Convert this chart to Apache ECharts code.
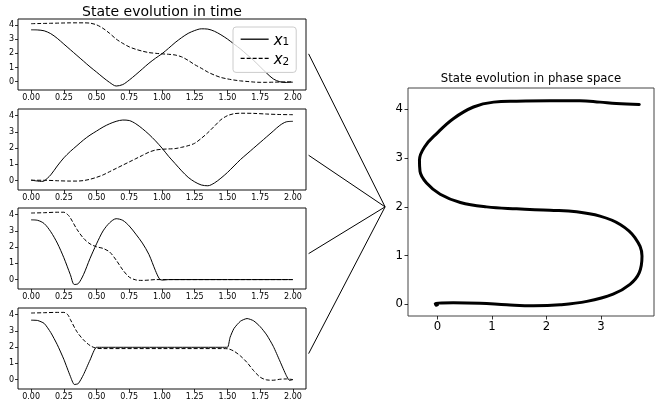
<!DOCTYPE html>
<html><head><meta charset="utf-8">
<script src="https://cdn.jsdelivr.net/npm/echarts@6/dist/echarts.min.js"></script>
<style>html,body{margin:0;padding:0;background:#fff}#c{width:662px;height:403px}</style>
</head><body><div id="c"></div>
<script>
// ---- tick labels ----
const timeTicks = [0, 0.25, 0.5, 0.75, 1.0, 1.25, 1.5, 1.75, 2.0];
const stateTicks = [0, 1, 2, 3, 4];
const phaseXTicks = [0, 1, 2, 3];
const phaseYTicks = [0, 1, 2, 3, 4];

// ---- subplot 1 ----
const t1 = [0,0.05,0.1,0.15,0.2,0.25,0.3,0.35,0.4,0.45,0.5,0.55,0.6,0.65,0.7,0.75,0.8,0.85,0.9,0.95,1.0,1.05,1.1,1.15,1.2,1.25,1.3,1.35,1.4,1.45,1.5,1.55,1.6,1.65,1.7,1.75,1.8,1.85,1.9,1.95,2.0];
const a_x1 = [3.65,3.64,3.58,3.38,3.05,2.65,2.25,1.85,1.45,1.05,0.68,0.3,-0.05,-0.3,-0.2,0.12,0.5,0.9,1.3,1.65,1.97,2.35,2.75,3.1,3.4,3.6,3.72,3.7,3.55,3.3,3.0,2.65,2.3,1.9,1.5,1.05,0.6,0.2,0.0,-0.05,-0.03];
const a_x2 = [4.08,4.09,4.1,4.11,4.12,4.13,4.14,4.14,4.14,4.12,4.0,3.75,3.4,3.0,2.7,2.45,2.28,2.15,2.05,2.0,1.96,1.93,1.88,1.75,1.5,1.2,0.95,0.68,0.47,0.3,0.2,0.12,0.06,0.02,-0.02,-0.04,-0.04,-0.03,-0.02,-0.01,0.0];

// ---- subplot 2 ----
const t2 = [0,0.05,0.08,0.1,0.15,0.2,0.25,0.3,0.35,0.4,0.45,0.5,0.55,0.6,0.65,0.7,0.75,0.8,0.85,0.9,0.95,1.0,1.05,1.1,1.15,1.2,1.25,1.3,1.35,1.4,1.45,1.5,1.55,1.6,1.65,1.7,1.75,1.8,1.85,1.9,1.95,2.0];
const b_x1 = [0.03,-0.03,-0.05,-0.02,0.35,0.9,1.4,1.8,2.15,2.5,2.8,3.05,3.3,3.5,3.65,3.73,3.7,3.5,3.2,2.85,2.45,2.0,1.5,1.05,0.6,0.2,-0.08,-0.27,-0.32,-0.15,0.15,0.5,0.9,1.3,1.65,2.0,2.35,2.7,3.05,3.4,3.62,3.65];
const t2b = [0,0.1,0.2,0.3,0.35,0.4,0.45,0.5,0.55,0.6,0.65,0.7,0.75,0.8,0.85,0.9,0.95,1.0,1.05,1.1,1.15,1.2,1.25,1.3,1.35,1.4,1.45,1.5,1.55,1.6,1.7,1.8,1.9,2.0];
const b_x2 = [0.02,0.02,-0.01,-0.03,-0.03,0.0,0.08,0.2,0.35,0.55,0.75,0.95,1.15,1.35,1.55,1.75,1.88,1.93,1.95,1.97,2.05,2.15,2.3,2.6,2.95,3.35,3.75,4.0,4.12,4.15,4.14,4.1,4.07,4.06];

// ---- subplot 3 ----
const t3a = [0,0.05,0.1,0.15,0.2,0.25,0.3,0.33,0.36,0.4,0.45,0.5,0.55,0.6,0.65,0.7,0.75,0.8,0.85,0.9,0.95,0.98,1.0,1.05,1.5,2.0];
const c_x1 = [3.68,3.65,3.45,2.95,2.25,1.35,0.3,-0.3,-0.25,0.3,1.3,2.2,3.0,3.5,3.75,3.65,3.3,2.8,2.25,1.55,0.55,0.05,-0.03,0.0,0.0,0.0];
const t3b = [0,0.1,0.2,0.25,0.28,0.3,0.35,0.4,0.45,0.5,0.55,0.6,0.65,0.7,0.75,0.8,0.85,0.9,0.95,1.0,1.5,2.0];
const c_x2 = [4.1,4.12,4.15,4.15,4.0,3.8,3.1,2.55,2.2,2.02,1.92,1.7,1.2,0.6,0.15,-0.02,-0.05,-0.03,0.0,0.0,0.0,0.0];

// ---- subplot 4 ----
const t4a = [0,0.05,0.1,0.15,0.2,0.25,0.3,0.33,0.36,0.4,0.45,0.5,0.55,1.0,1.45,1.5,1.52,1.55,1.6,1.65,1.7,1.75,1.8,1.85,1.9,1.95,1.975,2.0];
const d_x1 = [3.66,3.64,3.46,2.9,2.15,1.25,0.2,-0.3,-0.25,0.3,1.2,1.99,1.99,1.99,1.99,1.99,2.6,3.15,3.6,3.76,3.62,3.26,2.75,2.05,1.15,0.24,-0.05,0.0];
const t4b = [0,0.1,0.2,0.25,0.28,0.3,0.35,0.4,0.45,0.5,0.55,1.0,1.45,1.5,1.55,1.6,1.65,1.7,1.75,1.8,1.85,1.9,1.95,2.0];
const d_x2 = [4.1,4.12,4.14,4.14,4.0,3.7,2.95,2.45,2.1,1.93,1.91,1.91,1.91,1.9,1.75,1.45,1.05,0.55,0.15,-0.02,-0.04,0.02,0.04,0.0];

// ---- phase space (x1, x2) ----
const phaseX = [3.70,3.28,2.98,2.61,2.06,1.45,1.03,0.66,0.29,-0.01,-0.23,-0.33,-0.32,-0.2,0.05,0.42,0.9,1.45,2.06,2.55,2.98,3.35,3.62,3.75,3.70,3.53,3.22,2.74,2.25,1.76,1.27,0.78,0.29,-0.04,-0.02,0.0];
const phaseY = [4.10,4.12,4.15,4.18,4.18,4.17,4.15,4.05,3.81,3.51,3.24,2.96,2.73,2.49,2.26,2.09,2.0,1.96,1.93,1.90,1.81,1.64,1.37,0.99,0.65,0.41,0.21,0.06,-0.01,-0.03,-0.01,0.02,0.03,0.02,-0.02,-0.01];

// ---- connector anchors ----
const linkFromT = 2.12;
const linkFromY = [1.96, 1.56, 1.6, 1.6];
const linkTo = [-0.96, 2.0];

const zip = (xs, ys) => xs.map((x, i) => [x, ys[i]]);
const FONT = 'DejaVu Sans';

const gridBoxes = [
  {left: 18, top: 19, width: 288, height: 71},
  {left: 18, top: 109, width: 288, height: 81},
  {left: 18, top: 208, width: 288, height: 81},
  {left: 18, top: 308, width: 288, height: 81},
  {left: 408, top: 88, width: 246, height: 228}
];

const grids = gridBoxes.map((g, i) => Object.assign({show: true, borderColor: i === 4 ? '#444' : '#111', borderWidth: 1, backgroundColor: 'transparent'}, g));

function axis(kind, idx, min, max, ticks, fmt, fs, tl, mg) {
  return {type: 'value', gridIndex: idx, min, max,
    axisLine: {show: false, onZero: false}, splitLine: {show: false},
    axisTick: {show: true, length: tl, customValues: ticks, lineStyle: {color: '#000', width: 0.8}},
    axisLabel: {customValues: ticks, formatter: fmt, fontSize: fs, fontFamily: FONT, color: '#000', margin: mg}};
}
const xAxes = [], yAxes = [];
for (let i = 0; i < 4; i++) {
  xAxes.push(axis('x', i, -0.1, 2.1, timeTicks, v => v.toFixed(2), 8, 3, 4));
  yAxes.push(axis('y', i, -0.58, 4.41, stateTicks, v => String(v), 8, 3, 4));
}
xAxes.push(axis('x', 4, -0.54, 3.97, phaseXTicks, v => String(v), 11.7, 3.5, 5));
yAxes.push(axis('y', 4, -0.24, 4.44, phaseYTicks, v => String(v), 11.7, 3.5, 5));

function ln(name, idx, data, dashed, sm) {
  return {type: 'line', name, xAxisIndex: idx, yAxisIndex: idx, data, smooth: sm == null ? 0.3 : sm,
    symbol: 'none', silent: true, animation: false,
    lineStyle: {color: '#000', width: 1, type: dashed ? [4, 2] : 'solid'}, itemStyle: {color: '#000'}};
}

const series = [
  ln('x1', 0, zip(t1, a_x1), false), ln('x2', 0, zip(t1, a_x2), true),
  ln('b1', 1, zip(t2, b_x1), false), ln('b2', 1, zip(t2b, b_x2), true),
  ln('c1', 2, zip(t3a, c_x1), false), ln('c2', 2, zip(t3b, c_x2), true),
  ln('d1', 3, zip(t4a, d_x1), false, 0.2), ln('d2', 3, zip(t4b, d_x2), true),
  {type: 'line', name: 'phase', xAxisIndex: 4, yAxisIndex: 4, data: zip(phaseX, phaseY), smooth: 0.4,
    symbol: 'none', silent: true, animation: false, lineStyle: {color: '#000', width: 3, cap: 'round', join: 'round'}}
];

const chart = echarts.init(document.getElementById('c'), null, {renderer: 'canvas'});
chart.setOption({
  animation: false,
  backgroundColor: '#fff',
  grid: grids, xAxis: xAxes, yAxis: yAxes, series,
  legend: {
    data: [
      {name: 'x1', itemStyle: {opacity: 0}, lineStyle: {width: 1.3, color: '#000', type: 'solid'}},
      {name: 'x2', itemStyle: {opacity: 0}, lineStyle: {width: 1.3, color: '#000', type: [4, 2]}}
    ],
    orient: 'vertical', left: 233, top: 27, itemWidth: 28, itemHeight: 18, itemGap: 3,
    padding: [5, 7, 5, 7],
    backgroundColor: 'rgba(255,255,255,0.8)', borderColor: '#ccc', borderWidth: 1, borderRadius: 3,
    selectedMode: false,
    formatter: n => n === 'x1' ? '{i|x}{s|1}' : '{i|x}{s|2}',
    textStyle: {color: '#000', rich: {
      i: {fontSize: 15, fontStyle: 'italic', fontFamily: FONT, lineHeight: 18, verticalAlign: 'bottom'},
      s: {fontSize: 10.5, fontFamily: FONT, lineHeight: 14, verticalAlign: 'bottom'}
    }}
  }
});

// titles and connectors
const graphics = [
  {type: 'text', x: 162, y: 12, style: {text: 'State evolution in time', font: '14px "DejaVu Sans"', fill: '#000', textAlign: 'center', textVerticalAlign: 'middle'}},
  {type: 'text', x: 531, y: 79, style: {text: 'State evolution in phase space', font: '11.7px "DejaVu Sans"', fill: '#000', textAlign: 'center', textVerticalAlign: 'middle'}}
];
const target = chart.convertToPixel({gridIndex: 4}, linkTo);
for (let i = 0; i < 4; i++) {
  const p = chart.convertToPixel({gridIndex: i}, [linkFromT, linkFromY[i]]);
  graphics.push({type: 'line', shape: {x1: p[0], y1: p[1], x2: target[0], y2: target[1]}, style: {stroke: '#000', lineWidth: 1}, silent: true});
}
chart.setOption({graphic: graphics});
</script></body></html>
